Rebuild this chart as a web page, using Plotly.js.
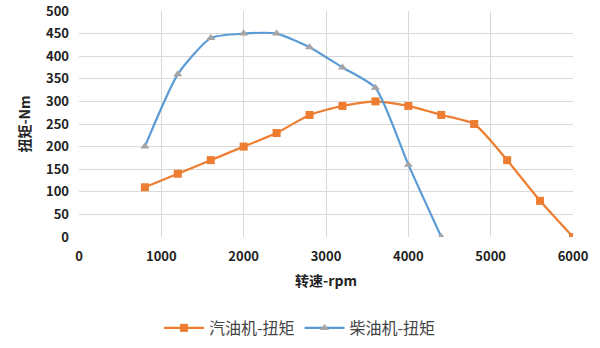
<!DOCTYPE html>
<html><head><meta charset="utf-8">
<script src="https://cdn.plot.ly/plotly-3.0.1.min.js"></script>
<style>html,body{margin:0;padding:0;background:#fff}#c{width:600px;height:348px}</style>
</head><body><div id="c"></div>
<script>
const rpmGas = [800,1200,1600,2000,2400,2800,3200,3600,4000,4400,4800,5200,5600,6000];
const torqueGas = [110,140,170,200,230,270,290,300,290,270,250,170,80,0];
const rpmDiesel = [800,1200,1600,2000,2400,2800,3200,3600,4000,4400];
const torqueDiesel = [200,360,440,450,450,420,375,330,160,0];
const nameGas = '汽油机-扭矩';
const nameDiesel = '柴油机-扭矩';
const fontFam = '"Noto Sans CJK SC", "Noto Sans", sans-serif';
const traces = [
  {x: rpmGas, y: torqueGas, name: nameGas, type: 'scatter', mode: 'lines+markers',
   line: {color: '#ED7D31', width: 2.2, shape: 'spline', smoothing: 0.6},
   marker: {symbol: 'square', size: 8, color: '#ED7D31'}},
  {x: rpmDiesel, y: torqueDiesel, name: nameDiesel, type: 'scatter', mode: 'lines+markers',
   line: {color: '#5B9BD5', width: 2.2, shape: 'spline', smoothing: 0.6},
   marker: {symbol: 'triangle-up', size: 8, color: '#A5A5A5'}}
];
const layout = {
  width: 600, height: 348,
  margin: {l: 79, r: 27, t: 11, b: 111, autoexpand: false},
  paper_bgcolor: '#fff', plot_bgcolor: '#fff',
  font: {family: fontFam, color: '#222'},
  xaxis: {range: [0, 6000], dtick: 1000, tick0: 0, showgrid: true, gridcolor: '#d9d9d9', gridwidth: 1,
    zeroline: false, showline: false, ticks: '', ticklabelstandoff: 10, automargin: false,
    tickfont: {size: 13, color: '#222', family: fontFam, weight: 'bold'},
    title: {text: '转速-rpm', font: {size: 14, color: '#222', weight: 'bold'}, standoff: 12}},
  yaxis: {range: [0, 500], dtick: 50, tick0: 0, showgrid: true, gridcolor: '#d9d9d9', gridwidth: 1,
    zeroline: false, showline: false, ticks: '', ticklabelstandoff: 9, automargin: false,
    tickfont: {size: 13, color: '#222', family: fontFam, weight: 'bold'},
    title: {text: '扭矩-Nm', font: {size: 14, color: '#222', weight: 'bold'}, standoff: 12}},
  showlegend: true,
  legend: {orientation: 'h', x: 0.5, xanchor: 'center', xref: 'container', yref: 'container', y: 0.0575, yanchor: 'middle',
    font: {size: 16, color: '#444'}, itemwidth: 40, tracegroupgap: 20},
};
Plotly.newPlot('c', traces, layout, {displayModeBar: false, staticPlot: true});
</script></body></html>
